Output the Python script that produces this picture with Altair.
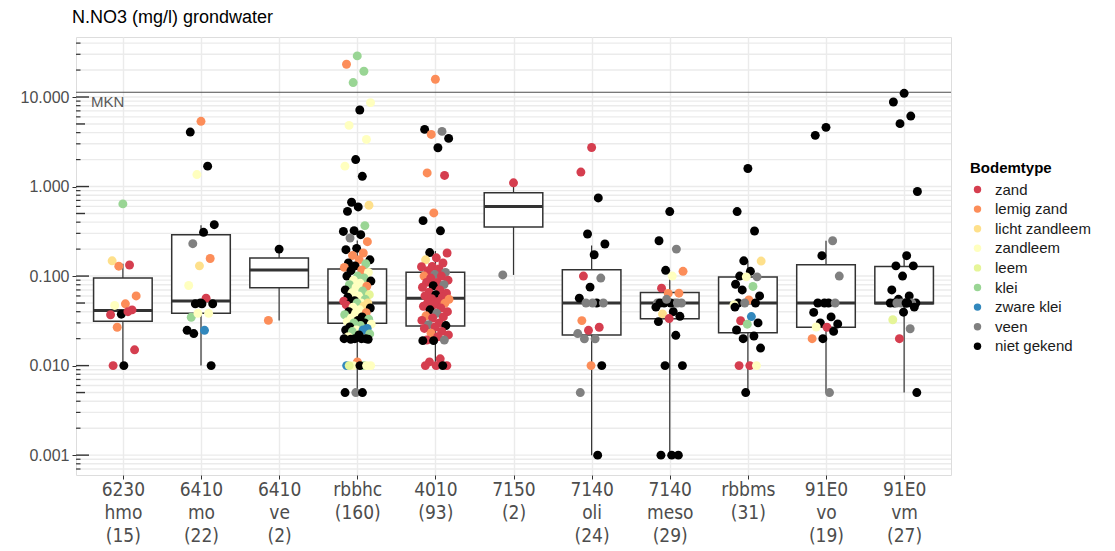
import json
import math
import altair as alt
import pandas as pd

# ---------------- data ----------------
cat_labels = ["6230|hmo|(15)", "6410|mo|(22)", "6410|ve|(2)", "rbbhc|(160)", "4010|(93)",
              "7150|(2)", "7140|oli|(24)", "7140|meso|(29)", "rbbms|(31)", "91E0|vo|(19)", "91E0|vm|(27)"]

box_q1 = [0.0313, 0.0385, 0.074, 0.0297, 0.0277, 0.354, 0.022, 0.0333, 0.0233, 0.0268, 0.049]
box_med = [0.0412, 0.0528, 0.117, 0.0499, 0.0567, 0.60, 0.05, 0.05, 0.05, 0.05, 0.05]
box_q3 = [0.095, 0.29, 0.159, 0.12, 0.11, 0.85, 0.118, 0.0655, 0.0975, 0.134, 0.128]
whisk_lo = [0.01, 0.01, 0.0318, 0.005, 0.01, 0.103, 0.001, 0.001, 0.005, 0.005, 0.005]
whisk_hi = [0.137, 0.369, 0.2, 0.25, 0.19, 1.1, 0.22, 0.11, 0.148, 0.248, 0.166]

mkn_value = 11.3

soil_types = ["zand", "lemig zand", "licht zandleem", "zandleem", "leem", "klei", "zware klei", "veen", "niet gekend"]
soil_codes = ["Z", "LZ", "LZL", "ZL", "L", "K", "ZK", "V", "N"]
soil_colors = ["#D53E4F", "#FC8D59", "#FEE08B", "#FFFFBF", "#E6F598", "#99D594", "#3288BD", "#808080", "#000000"]

v_6230_hmo = [0.64, 0.148, 0.133, 0.129, 0.060, 0.049, 0.047, 0.0419, 0.0375, 0.037, 0.04, 0.0268, 0.015, 0.01, 0.01]
s_6230_hmo = ["K", "LZL", "Z", "LZ", "LZ", "LZ", "ZL", "Z", "N", "Z", "Z", "LZ", "Z", "N", "Z"]

v_6410_mo = [5.35, 4.06, 1.69, 1.36, 0.375, 0.308, 0.23, 0.157, 0.13, 0.0785, 0.0567, 0.049, 0.049, 0.049,
             0.0347, 0.0384, 0.0384, 0.0248, 0.0248, 0.0228, 0.01, 0.05]
s_6410_mo = ["LZ", "N", "N", "ZL", "N", "N", "V", "LZ", "LZL", "ZL", "Z", "N", "N", "N",
             "K", "ZL", "ZL", "N", "ZK", "N", "N", "N"]

v_6410_ve = [0.2, 0.032]
s_6410_ve = ["N", "LZ"]

v_rbbhc = [28.8, 23.2, 19.4, 14.5, 8.65, 7.16, 4.82, 3.36, 2.0, 1.69, 1.30, 0.667, 0.618, 0.592, 0.528, 0.366,
           0.321, 0.315, 0.29, 0.266, 0.242, 0.204, 0.197, 0.181, 0.17, 0.152, 0.152, 0.14, 0.137, 0.13, 0.125,
           0.117, 0.115, 0.11, 0.1, 0.1, 0.095, 0.09, 0.088, 0.083, 0.08, 0.077, 0.075, 0.07, 0.068, 0.065,
           0.062, 0.06, 0.058, 0.055, 0.053, 0.0525, 0.05, 0.05, 0.05, 0.05, 0.0476, 0.046, 0.045, 0.044, 0.042,
           0.04, 0.039, 0.0384, 0.037, 0.035, 0.034, 0.033, 0.032, 0.031, 0.03, 0.03, 0.029, 0.028, 0.027, 0.026,
           0.025, 0.025, 0.025, 0.024, 0.0226, 0.022, 0.021, 0.02, 0.02, 0.02, 0.02, 0.0197, 0.0197,
           0.011, 0.01, 0.01, 0.01, 0.01, 0.01, 0.01, 0.01, 0.005, 0.005, 0.005]
s_rbbhc = ["K", "LZ", "K", "K", "ZL", "N", "ZL", "ZL", "N", "ZL", "N", "N", "LZL", "N", "N", "K",
           "N", "N", "N", "V", "LZ", "N", "N", "LZ", "LZ", "N", "LZ", "N", "K", "N", "LZ",
           "LZ", "N", "ZL", "K", "N", "K", "ZL", "N", "ZL", "K", "LZ", "ZL", "N", "K", "ZL",
           "L", "ZL", "N", "K", "N", "Z", "ZL", "N", "LZL", "K", "Z", "LZL", "ZL", "N", "ZL",
           "N", "LZ", "ZL", "K", "N", "ZL", "K", "N", "ZL", "N", "K", "ZL", "K", "N", "ZK",
           "ZL", "N", "ZK", "K", "K", "N", "ZL", "N", "N", "N", "N", "N", "N",
           "LZ", "ZK", "K", "ZL", "ZL", "N", "L", "ZL", "V", "N", "N"]

v_4010 = [15.8, 4.35, 4.13, 3.82, 3.45, 2.71, 1.42, 1.33, 0.507, 0.416, 0.32, 0.183, 0.181, 0.16, 0.152, 0.14,
          0.128, 0.127, 0.12, 0.115, 0.11, 0.104, 0.1, 0.1, 0.095, 0.09, 0.085, 0.085, 0.0802, 0.078, 0.075,
          0.07, 0.066, 0.0644, 0.062, 0.06, 0.058, 0.056, 0.055, 0.052, 0.05, 0.0498, 0.048, 0.046, 0.044,
          0.042, 0.04, 0.0384, 0.036, 0.035, 0.034, 0.032, 0.03, 0.0286, 0.028, 0.027, 0.026, 0.0241, 0.023,
          0.022, 0.021, 0.0193, 0.0193, 0.019, 0.019, 0.0119, 0.011, 0.01, 0.01, 0.01, 0.01]
s_4010 = ["LZ", "N", "V", "LZ", "N", "N", "LZ", "Z", "LZ", "N", "N", "N", "Z", "Z", "LZL", "Z",
          "Z", "Z", "Z", "Z", "V", "V", "LZ", "Z", "Z", "Z", "Z", "Z", "V", "N", "Z",
          "Z", "Z", "Z", "N", "Z", "Z", "Z", "LZ", "Z", "Z", "LZ", "Z", "Z", "Z",
          "N", "Z", "V", "LZ", "Z", "Z", "Z", "Z", "V", "N", "Z", "Z", "Z", "LZ",
          "Z", "Z", "Z", "V", "N", "N", "Z", "Z", "Z", "Z", "Z", "N"]

v_7150 = [1.1, 0.103]
s_7150 = ["Z", "V"]

v_7140_oli = [2.73, 1.45, 0.746, 0.295, 0.228, 0.173, 0.1, 0.095, 0.0753, 0.0567, 0.05, 0.05, 0.05, 0.05,
              0.0318, 0.0268, 0.0248, 0.0228, 0.0199, 0.0199, 0.01, 0.01, 0.005, 0.001]
s_7140_oli = ["Z", "Z", "N", "N", "N", "N", "Z", "V", "N", "N", "N", "V", "V", "V",
              "LZ", "Z", "Z", "V", "V", "V", "N", "LZ", "V", "N"]

v_7140_meso = [0.525, 0.248, 0.2, 0.116, 0.113, 0.1, 0.0733, 0.0644, 0.064, 0.05, 0.05, 0.05, 0.05, 0.05,
               0.05, 0.05, 0.055, 0.045, 0.04, 0.0378, 0.0355, 0.0335, 0.031, 0.0218, 0.01, 0.01, 0.001, 0.001, 0.001]
s_7140_meso = ["N", "N", "V", "N", "LZ", "ZL", "Z", "LZ", "LZ", "V", "V", "N", "V", "N",
               "N", "V", "V", "N", "N", "LZL", "N", "Z", "N", "N", "N", "N", "N", "N", "N"]

v_rbbms = [1.59, 0.525, 0.319, 0.148, 0.147, 0.113, 0.1, 0.098, 0.098, 0.081, 0.0766, 0.07, 0.06, 0.0542,
           0.05, 0.05, 0.05, 0.048, 0.0353, 0.0317, 0.03, 0.029, 0.025, 0.0214, 0.02, 0.0157, 0.01, 0.01, 0.01,
           0.005, 0.045]
s_rbbms = ["N", "N", "N", "N", "LZL", "N", "N", "V", "ZL", "N", "K", "N", "N", "LZ",
           "N", "N", "V", "ZL", "ZK", "Z", "N", "K", "N", "N", "N", "N", "Z", "Z", "ZL",
           "N", "N"]

v_91E0_vo = [4.58, 3.73, 0.248, 0.169, 0.1, 0.05, 0.05, 0.05, 0.05, 0.0393, 0.035, 0.03, 0.0292, 0.0268,
             0.027, 0.0241, 0.02, 0.02, 0.005]
s_91E0_vo = ["N", "N", "V", "N", "V", "N", "N", "V", "N", "N", "N", "N", "N", "Z",
             "ZL", "N", "N", "LZ", "V"]

v_91E0_vm = [11.0, 8.8, 6.13, 5.04, 0.88, 0.169, 0.13, 0.13, 0.1, 0.07, 0.06, 0.055, 0.05, 0.05, 0.05, 0.05,
             0.05, 0.05, 0.05, 0.05, 0.045, 0.0395, 0.0325, 0.0258, 0.02, 0.005, 0.05]
s_91E0_vm = ["N", "N", "N", "N", "N", "N", "N", "N", "N", "N", "N", "N", "N", "N", "N", "V",
             "V", "N", "N", "V", "N", "N", "L", "V", "Z", "N", "N"]

group_points = [(v_6230_hmo, s_6230_hmo), (v_6410_mo, s_6410_mo), (v_6410_ve, s_6410_ve), (v_rbbhc, s_rbbhc),
                (v_4010, s_4010), (v_7150, s_7150), (v_7140_oli, s_7140_oli), (v_7140_meso, s_7140_meso),
                (v_rbbms, s_rbbms), (v_91E0_vo, s_91E0_vo), (v_91E0_vm, s_91E0_vm)]

# ---------------- tables ----------------
code_map = dict(zip(soil_codes, soil_types))
rows = []
for gi, (vals, soils) in enumerate(group_points, start=1):
    for i, (v, s) in enumerate(zip(vals, soils)):
        jit = (((i * 0.6180339887) + 0.5) % 1.0 - 0.5) * 0.36  # deterministic jitter
        rows.append({"g": gi, "xp": gi + jit, "v": v, "soil": code_map[s]})
pts = pd.DataFrame(rows)

boxes = pd.DataFrame({
    "g": list(range(1, 12)),
    "q1": box_q1, "med": box_med, "q3": box_q3, "lo": whisk_lo, "hi": whisk_hi,
})
boxes["x1"] = boxes["g"] - 0.375
boxes["x2"] = boxes["g"] + 0.375


def tick_kind(val):
    mant = val / 10 ** math.floor(math.log10(val) + 1e-9)
    if abs(mant - 1) < 1e-6:
        return "long"
    if abs(mant - 5) < 1e-6:
        return "mid"
    return "short"


grid_vals = [m * 10.0 ** e for e in range(-4, 2) for m in range(1, 10)]
grid_vals = [g for g in grid_vals if 0.00065 <= g <= 46]
grid_df = pd.DataFrame({"v": grid_vals, "kind": [tick_kind(g) for g in grid_vals]})
mkn_df = pd.DataFrame({"v": [mkn_value], "label": ["MKN"]})

# ---------------- scales / axes ----------------
LINE = "#333333"
SANS = "Liberation Sans, Arial, sans-serif"
NARROW = "DejaVu Sans Condensed, Liberation Sans Narrow, Arial Narrow, Liberation Sans, sans-serif"
xscale = alt.Scale(domain=[0.4, 11.6], nice=False, zero=False)
yscale = alt.Scale(type="log", domain=[0.0006, 46.8], nice=False)
label_expr = "split(" + json.dumps(cat_labels) + "[datum.value - 1], '|')"
xaxis = alt.Axis(values=list(range(1, 12)), labelExpr=label_expr, title=None, grid=True,
                 gridColor="#EBEBEB", gridWidth=1.4, domain=False, tickColor=LINE, tickSize=4,
                 labelFont=NARROW, labelFontSize=19, labelColor="#4D4D4D",
                 labelLineHeight=23, labelPadding=1, labelBaseline="top")
yaxis = alt.Axis(values=[0.001, 0.01, 0.1, 1, 10], format=".3f", title=None, grid=False, domain=False,
                 tickColor=LINE, tickSize=4, labelFont=SANS, labelFontSize=16,
                 labelColor="#4D4D4D", labelPadding=3)

Y = lambda f: alt.Y(f, scale=yscale, axis=yaxis)
X = lambda f: alt.X(f, scale=xscale, axis=xaxis)

grid = alt.Chart(grid_df).mark_rule(color="#EBEBEB", strokeWidth=1.4).encode(y=Y("v:Q"))
mkn = alt.Chart(mkn_df).mark_rule(color="#4D4D4D", strokeWidth=1).encode(y=Y("v:Q"))
mkn_txt = alt.Chart(mkn_df).mark_text(align="left", baseline="top", dy=3, fontSize=15, color="#595959",
                                      font=SANS).encode(x=alt.value(15), y=Y("v:Q"), text="label:N")
logt_long = alt.Chart(grid_df).transform_filter("datum.kind == 'long'").mark_rule(
    color=LINE, strokeWidth=1.4).encode(x=alt.value(0), x2=alt.value(13), y=Y("v:Q"))
logt_mid = alt.Chart(grid_df).transform_filter("datum.kind == 'mid'").mark_rule(
    color=LINE, strokeWidth=1.4).encode(x=alt.value(0), x2=alt.value(9), y=Y("v:Q"))
logt_short = alt.Chart(grid_df).transform_filter("datum.kind == 'short'").mark_rule(
    color=LINE, strokeWidth=1.2).encode(x=alt.value(0), x2=alt.value(4.5), y=Y("v:Q"))

whisk = alt.Chart(boxes).mark_rule(color=LINE, strokeWidth=1.2).encode(x=X("g:Q"), y=Y("lo:Q"), y2="hi:Q")
box = alt.Chart(boxes).mark_rect(fill="white", stroke=LINE, strokeWidth=1.5).encode(
    x=X("x1:Q"), x2="x2:Q", y=Y("q1:Q"), y2="q3:Q")
med = alt.Chart(boxes).mark_rule(color=LINE, strokeWidth=3).encode(x=X("x1:Q"), x2="x2:Q", y=Y("med:Q"))

points = alt.Chart(pts).mark_circle(size=80, opacity=1).encode(
    x=X("xp:Q"), y=Y("v:Q"),
    color=alt.Color("soil:N", scale=alt.Scale(domain=soil_types, range=soil_colors),
                    legend=alt.Legend(title="Bodemtype", orient="none", legendX=894, legendY=124,
                                      titleFontSize=15, titleFontWeight="bold", titleFont=SANS,
                                      titleColor="#000000", titlePadding=6,
                                      labelFontSize=15, labelFont=SANS, labelColor="#1A1A1A",
                                      symbolSize=55, symbolType="circle", symbolStrokeWidth=0,
                                      labelOffset=10, rowPadding=3.6, padding=0)))

chart = alt.layer(grid, mkn, logt_long, logt_mid, logt_short, whisk, box, med, mkn_txt, points).properties(
    width=875, height=438,
    title=alt.TitleParams("N.NO3 (mg/l) grondwater", anchor="start", frame="group", fontSize=18,
                          fontWeight="normal", font=SANS, color="#000000", offset=10, dx=-4),
    autosize=alt.AutoSizeParams(type="none"),
    padding={"left": 68, "top": 29, "right": 150, "bottom": 72},
).configure_view(stroke="#595959", strokeWidth=1).configure(background="white")

chart.save("out.html", embed_options={"renderer": "svg", "actions": False})
